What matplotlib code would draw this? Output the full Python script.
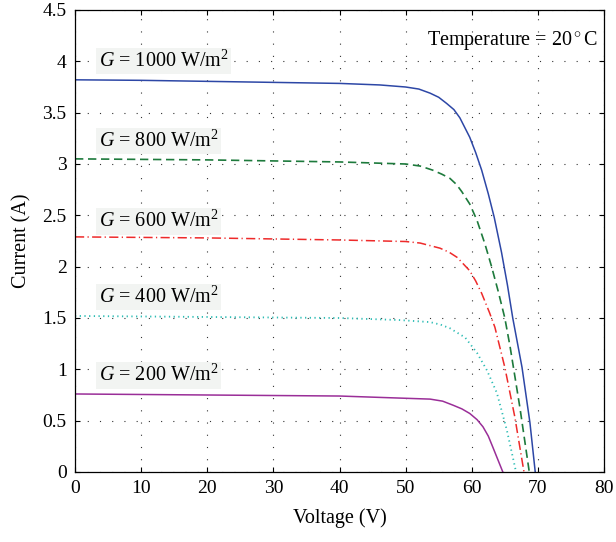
import numpy as np
import matplotlib
matplotlib.use("Agg")
import matplotlib.pyplot as plt
from matplotlib.ticker import FormatStrFormatter

plt.rcParams['font.family'] = ['Liberation Serif', 'DejaVu Serif']
plt.rcParams['mathtext.fontset'] = 'custom'
plt.rcParams['mathtext.rm'] = 'Liberation Serif'
plt.rcParams['mathtext.it'] = 'Liberation Serif:italic'

# I-V curves (voltage V, current A)
v_1000 = [0, 10, 20, 30, 40, 46.1, 50, 52.0, 53.7, 55.0, 56.2, 57.3, 58.2, 59.7, 60.6, 61.5,
          62.5, 63.4, 64.5, 65.4, 66.2, 67.6, 68.8, 69.6]
i_1000 = [3.82, 3.815, 3.805, 3.795, 3.785, 3.77, 3.75, 3.73, 3.69, 3.65, 3.59, 3.53, 3.45, 3.26, 3.11, 2.94,
          2.71, 2.48, 2.14, 1.82, 1.50, 1.02, 0.48, 0.0]

v_800 = [0, 10, 20, 30, 40, 50, 52.2, 54.1, 55.5, 56.7, 57.7, 58.5, 59.7, 60.8, 62.0,
         63.0, 64.0, 65.0, 65.8, 67.3, 68.7]
i_800 = [3.05, 3.045, 3.04, 3.03, 3.02, 3.00, 2.98, 2.94, 2.90, 2.86, 2.80, 2.73, 2.61, 2.45, 2.22,
         2.00, 1.76, 1.50, 1.22, 0.62, 0.0]

v_600 = [0, 10, 20, 30, 40, 50, 52.2, 55.2, 56.6, 57.8, 59.7, 60.6, 61.5, 62.7, 63.5, 65.0, 66.5, 67.9]
i_600 = [2.29, 2.285, 2.28, 2.27, 2.26, 2.245, 2.23, 2.18, 2.14, 2.09, 1.96, 1.86, 1.74, 1.55, 1.41,
         1.02, 0.54, 0.0]

v_400 = [0, 10, 20, 30, 40, 49.1, 53.7, 55.3, 56.7, 59.0, 60.8, 62.3, 63.8, 65.3, 66.7]
i_400 = [1.52, 1.515, 1.51, 1.505, 1.50, 1.48, 1.46, 1.435, 1.40, 1.31, 1.16, 0.99, 0.77, 0.41, 0.0]

v_200 = [0, 10, 20, 30, 40, 49.1, 53.7, 55.6, 57.2, 58.5, 59.7, 60.8, 61.7, 62.5, 63.2, 64.7]
i_200 = [0.76, 0.755, 0.75, 0.745, 0.74, 0.72, 0.71, 0.69, 0.65, 0.615, 0.57, 0.51, 0.44, 0.35, 0.24, 0.0]

labels = [r'$G$ = 1000 W/m$^2$', r'$G$ = 800 W/m$^2$', r'$G$ = 600 W/m$^2$',
          r'$G$ = 400 W/m$^2$', r'$G$ = 200 W/m$^2$']
label_y = [4.0, 3.22, 2.44, 1.70, 0.94]

fig = plt.figure(figsize=(6.16, 5.42), dpi=100)
ax = fig.add_axes([75 / 616, 70 / 542, 529 / 616, 462 / 542])

ax.plot(v_1000, i_1000, color='#2d47a6', lw=1.1, ls='-')
ax.plot(v_800, i_800, color='#1d7a3c', lw=1.2, ls=(0, (5, 2.8)))
ax.plot(v_600, i_600, color='#ee2a2a', lw=1.1, ls=(0, (6, 2.2, 0.8, 2.2)))
ax.plot(v_400, i_400, color='#2bbcb4', lw=1.3, ls=(0, (0.7, 1.9)))
ax.plot(v_200, i_200, color='#9a2e98', lw=1.1, ls='-')

for lab, y in zip(labels, label_y):
    ax.text(3.6, y, lab, fontsize=14.5, va='center', ha='left',
            bbox=dict(boxstyle='square,pad=0.12', fc='#f2f4f2', ec='none'))

ax.text(0.987, 0.935, 'Temperature = 20$^\\circ$C', transform=ax.transAxes,
        fontsize=14.5, ha='right', va='center')

ax.set_xlim(0, 80)
ax.set_ylim(0, 4.5)
ax.set_xticks(np.arange(0, 81, 10))
ax.set_yticks(np.arange(0, 4.51, 0.5))
ax.yaxis.set_major_formatter(FormatStrFormatter('%g'))
ax.tick_params(direction='in', top=True, right=True, labelsize=14, length=3.6, width=0.8, pad=6)
ax.grid(True, color='#333333', ls=(0, (1, 10)), lw=0.8)
for s in ax.spines.values():
    s.set_linewidth(0.9)

ax.set_xlabel('Voltage (V)', fontsize=14.5, labelpad=8)
ax.set_ylabel('Current (A)', fontsize=14.5, labelpad=8)

fig.savefig('out.png', dpi=100)
